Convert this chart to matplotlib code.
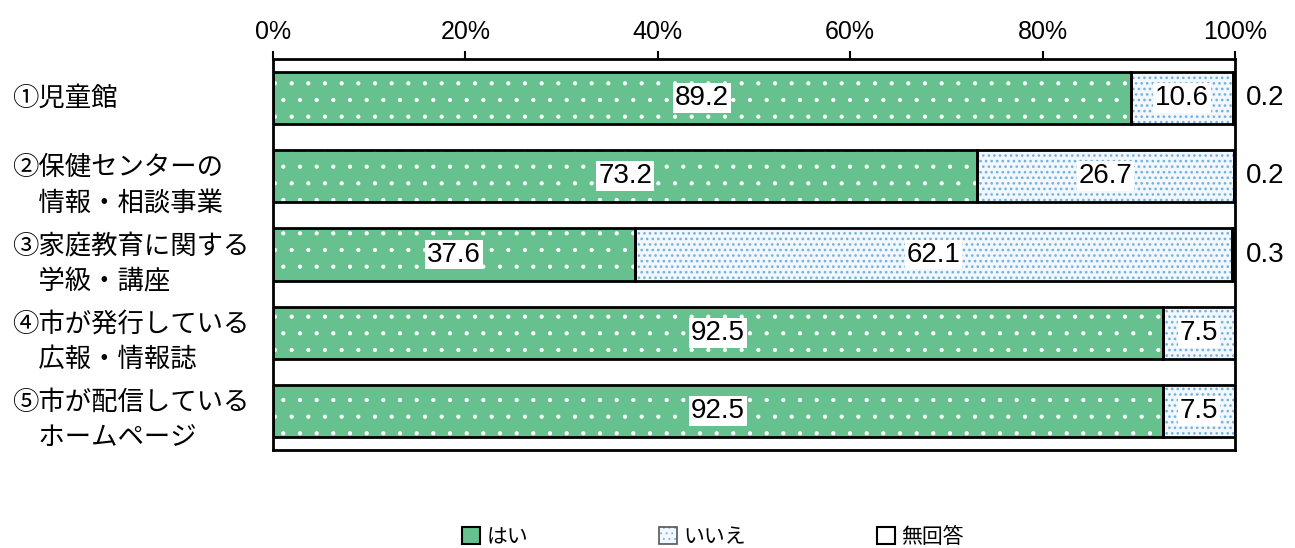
import matplotlib.pyplot as plt
from matplotlib.patches import Patch
from matplotlib.transforms import blended_transform_factory

plt.rcParams['font.family'] = ['Noto Sans CJK JP', 'DejaVu Sans']
plt.rcParams['hatch.linewidth'] = 0.6

# データ
categories = ["①児童館",
              "②保健センターの\n\u3000情報・相談事業",
              "③家庭教育に関する\n\u3000学級・講座",
              "④市が発行している\n\u3000広報・情報誌",
              "⑤市が配信している\n\u3000ホームページ"]
hai = [89.2, 73.2, 37.6, 92.5, 92.5]
iie = [10.6, 26.7, 62.1, 7.5, 7.5]
mukaito = [0.2, 0.2, 0.3, 0.0, 0.0]
series_names = ["はい", "いいえ", "無回答"]
xticks = [0, 20, 40, 60, 80, 100]

green = "#66c18f"
blue_bg = "#f1f7fc"
blue_dot = "#74b2de"
num_font = ['Liberation Sans', 'DejaVu Sans']

fig = plt.figure(figsize=(12.95, 5.48), dpi=100)
ax = fig.add_axes([273 / 1295, 1 - 450 / 548, 962 / 1295, 391 / 548])

y = list(range(len(categories)))
h = 0.665
left2 = [a for a in hai]
left3 = [a + b for a, b in zip(hai, iie)]

# 塗り + 点模様（ハッチ色は edgecolor で指定）
ax.barh(y, hai, height=h, color=green, edgecolor="white", hatch=".", linewidth=0)
with plt.rc_context({'hatch.linewidth': 1.1}):
    ax.barh(y, iie, left=left2, height=h, color=blue_bg, edgecolor=blue_dot, hatch="...", linewidth=0)
ax.barh(y, mukaito, left=left3, height=h, color="white", linewidth=0)
# 枠線
for vals, lefts in [(hai, [0] * 5), (iie, left2), (mukaito, left3)]:
    ax.barh(y, vals, left=lefts, height=h, fill=False, edgecolor="black", linewidth=2)

# 数値ラベル
lab_kw = dict(ha="center", va="center", fontsize=20, family=num_font)
box = dict(facecolor="white", edgecolor="none", pad=1.5)
for i in y:
    ax.text(hai[i] / 2, i, f"{hai[i]:.1f}", bbox=box, **lab_kw)
    ax.text(left2[i] + iie[i] / 2, i, f"{iie[i]:.1f}", bbox=box, **lab_kw)
    if mukaito[i] > 0:
        ax.text(103.1, i, f"{mukaito[i]:.1f}", clip_on=False, **lab_kw)

ax.set_xlim(0, 100)
ax.set_ylim(len(categories) - 0.5, -0.5)
ax.xaxis.tick_top()
ax.set_xticks(xticks)
ax.set_xticklabels([f"{t}%" for t in xticks], family=num_font, fontsize=18)
ax.tick_params(axis="x", length=6, width=1.5, pad=5)
ax.set_yticks([])
for s in ax.spines.values():
    s.set_linewidth(2)

# 項目ラベル
tr = blended_transform_factory(fig.transFigure, ax.transData)
for i, c in enumerate(categories):
    off = 0.0 if "\n" not in c else 0.12
    ax.text(12 / 1295, i + off, c, transform=tr, ha="left", va="center",
            fontsize=19, linespacing=1.4)

with plt.rc_context({'hatch.linewidth': 1.1}):
    blue_patch = Patch(facecolor=blue_bg, edgecolor=blue_dot, hatch="...", linewidth=0)
handles = [Patch(facecolor=green, edgecolor="black", linewidth=1.5),
           (blue_patch, Patch(fill=False, edgecolor="#555555", linewidth=1.2)),
           Patch(facecolor="white", edgecolor="black", linewidth=1.5)]
fig.legend(handles, series_names, loc="center", bbox_to_anchor=(713 / 1295, 1 - 537 / 548),
           ncol=3, frameon=False, fontsize=15, columnspacing=6.3, handlelength=0.85,
           handleheight=0.85, handletextpad=0.3)

fig.savefig("out.png", dpi=100)
